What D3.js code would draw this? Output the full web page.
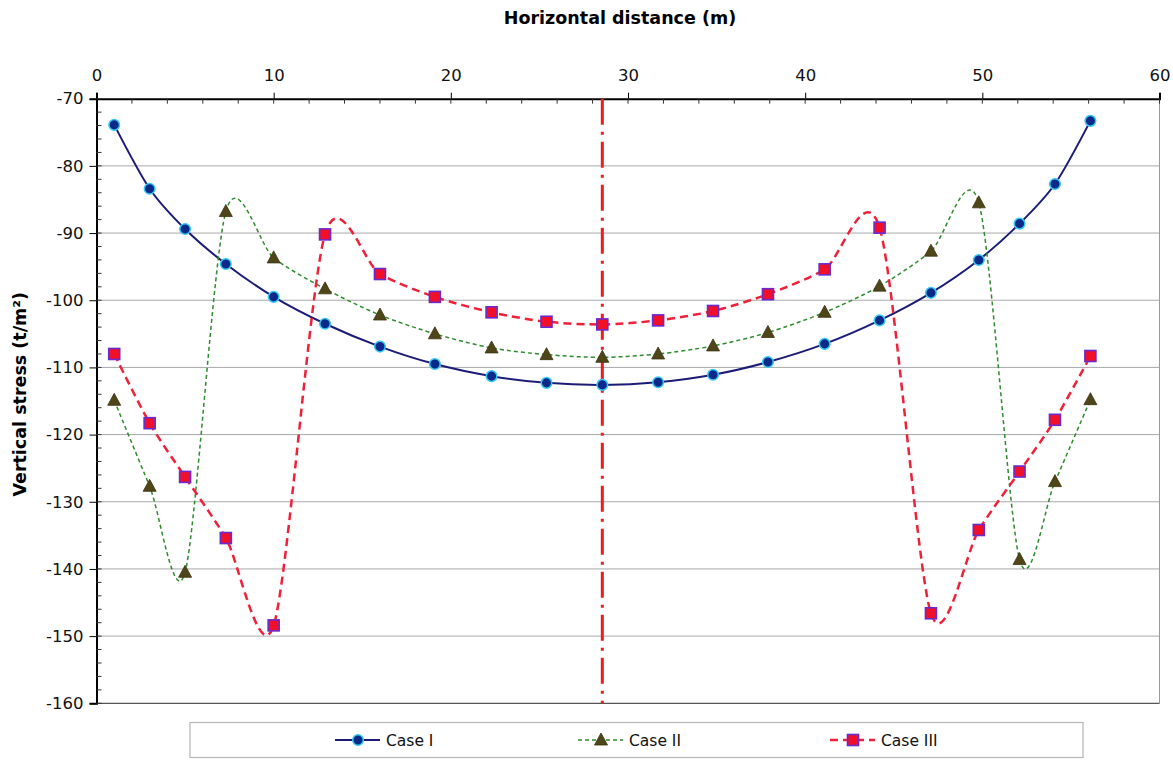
<!DOCTYPE html>
<html>
<head>
<meta charset="utf-8">
<script src="https://cdn.jsdelivr.net/npm/d3@7"></script>
<style>
  body { margin: 0; background: #fff; }
  text { font-family: "DejaVu Sans", sans-serif; }
</style>
</head>
<body>
<div id="chart"></div>
<script>
// horizontal distance of each station (m)
var distance = [1.0, 3.0, 5.0, 7.3, 10.0, 12.9, 16.0, 19.1, 22.3, 25.4, 28.55,
                31.7, 34.8, 37.9, 41.1, 44.2, 47.1, 49.8, 52.1, 54.1, 56.1];
// vertical stress (t/m2)
var caseI = [-73.9, -83.4, -89.4, -94.6, -99.5, -103.5, -106.9, -109.5, -111.3, -112.3, -112.6,
             -112.2, -111.1, -109.2, -106.5, -103.0, -98.9, -94.0, -88.6, -82.7, -73.3];
var caseII = [-114.9, -127.7, -140.5, -86.8, -93.7, -98.3, -102.2, -105.0, -107.1, -108.1, -108.5,
              -108.0, -106.8, -104.8, -101.8, -97.9, -92.7, -85.5, -138.6, -127.0, -114.8];
var caseIII = [-108.0, -118.3, -126.3, -135.4, -148.4, -90.2, -96.1, -99.5, -101.8, -103.2, -103.6,
               -103.0, -101.6, -99.1, -95.4, -89.2, -146.6, -134.2, -125.5, -117.8, -108.3];
var seriesNames = ["Case I", "Case II", "Case III"];
var centreLine = 28.55;
var xTicks = [0, 10, 20, 30, 40, 50, 60];
var yTicks = [-70, -80, -90, -100, -110, -120, -130, -140, -150, -160];

var W = 1173, H = 773;
var margin = { top: 98.7, right: 13.5, bottom: 69.7, left: 96.5 },
    width = W - margin.left - margin.right,
    height = H - margin.top - margin.bottom;

var svg = d3.select("#chart").append("svg")
    .attr("width", W).attr("height", H);

var g = svg.append("g")
    .attr("transform", "translate(" + margin.left + "," + margin.top + ")");

var x = d3.scaleLinear().domain([0, 60]).range([0, width]);
var y = d3.scaleLinear().domain([-70, -160]).range([0, height]);

// gridlines
g.append("g").selectAll("line")
    .data(yTicks.slice(1, -1))
    .enter().append("line")
    .attr("x1", 0).attr("x2", width)
    .attr("y1", d => y(d)).attr("y2", d => y(d))
    .attr("stroke", "#a8a8a8").attr("stroke-width", 1);

// frame: right and bottom
g.append("line").attr("x1", width).attr("x2", width).attr("y1", 0).attr("y2", height)
    .attr("stroke", "#9a9a9a").attr("stroke-width", 1);
g.append("line").attr("x1", 0).attr("x2", width).attr("y1", height).attr("y2", height)
    .attr("stroke", "#555").attr("stroke-width", 1.2);

// top axis
var xAxis = g.append("g").call(d3.axisTop(x).tickValues(xTicks).tickSize(6).tickPadding(12)
    .tickFormat(d => String(d)));
xAxis.select(".domain").attr("stroke", "#000").attr("stroke-width", 2);
xAxis.selectAll("text").attr("font-size", 16.5).attr("fill", "#111")
    .attr("font-family", "DejaVu Sans, sans-serif");
g.append("g").selectAll("line")
    .data(d3.range(0, 61, 2))
    .enter().append("line")
    .attr("x1", d => x(d)).attr("x2", d => x(d))
    .attr("y1", 0).attr("y2", 5)
    .attr("stroke", "#333").attr("stroke-width", 1);

// left axis
var yAxis = g.append("g").call(d3.axisLeft(y).tickValues(yTicks).tickSize(7).tickPadding(6)
    .tickFormat(d => String(d)));
yAxis.select(".domain").attr("stroke", "#000").attr("stroke-width", 2);
yAxis.selectAll("text").attr("font-size", 16.5).attr("fill", "#111")
    .attr("font-family", "DejaVu Sans, sans-serif");
g.append("g").selectAll("line")
    .data(d3.range(-70, -161, -2))
    .enter().append("line")
    .attr("x1", 0).attr("x2", 5)
    .attr("y1", d => y(d)).attr("y2", d => y(d))
    .attr("stroke", "#333").attr("stroke-width", 1);

// axis titles
svg.append("text")
    .attr("x", 620).attr("y", 24)
    .attr("text-anchor", "middle")
    .attr("font-size", 17.5).attr("font-weight", "bold")
    .text("Horizontal distance (m)");
svg.append("text")
    .attr("transform", "translate(26," + (margin.top + y(-114)) + ") rotate(-90)")
    .attr("text-anchor", "middle")
    .attr("font-size", 17.5).attr("font-weight", "bold")
    .text("Vertical stress (t/m²)");

// centre line
g.append("line")
    .attr("x1", x(centreLine)).attr("x2", x(centreLine))
    .attr("y1", 0).attr("y2", height)
    .attr("stroke", "#ee1c1c").attr("stroke-width", 3)
    .attr("stroke-dasharray", "26,7,3,7");

var styles = [
    { values: caseI, line: "#1c1c78", width: 2, dash: null, marker: "circle" },
    { values: caseII, line: "#2e8b2e", width: 1.5, dash: "4,3", marker: "triangle" },
    { values: caseIII, line: "#f0203a", width: 2.5, dash: "8,5", marker: "square" }
];

var line = d3.line()
    .x(d => x(d[0])).y(d => y(d[1]))
    .curve(d3.curveCardinal.tension(0.15));

function drawMarker(sel, type) {
    if (type === "circle") {
        sel.append("circle").attr("r", 5.3)
            .attr("fill", "#0a2a8a").attr("stroke", "#38c8f5").attr("stroke-width", 1.5);
    } else if (type === "triangle") {
        sel.append("path").attr("d", "M0,-7L6.5,5L-6.5,5Z")
            .attr("fill", "#4e4519").attr("stroke", "#3a3410").attr("stroke-width", 0.8);
    } else {
        sel.append("rect").attr("x", -5.5).attr("y", -5.5).attr("width", 11).attr("height", 11)
            .attr("fill", "#f0102a").attr("stroke", "#6a2ad0").attr("stroke-width", 1.6);
    }
}

styles.forEach(function (s) {
    var pts = distance.map((d, i) => [d, s.values[i]]);
    g.append("path")
        .attr("d", line(pts))
        .attr("fill", "none")
        .attr("stroke", s.line)
        .attr("stroke-width", s.width)
        .attr("stroke-dasharray", s.dash);
    g.append("g").selectAll("g")
        .data(pts)
        .enter().append("g")
        .attr("transform", d => "translate(" + x(d[0]) + "," + y(d[1]) + ")")
        .each(function () { drawMarker(d3.select(this), s.marker); });
});

// legend
var legend = svg.append("g");
legend.append("rect")
    .attr("x", 190).attr("y", 722.5).attr("width", 893).attr("height", 35)
    .attr("fill", "#fff").attr("stroke", "#b5b5b5").attr("stroke-width", 1.2);
var legendX = [335, 578, 830];
styles.forEach(function (s, i) {
    var lg = legend.append("g").attr("transform", "translate(" + legendX[i] + ",740)");
    lg.append("line").attr("x1", 0).attr("x2", 45).attr("y1", 0).attr("y2", 0)
        .attr("stroke", s.line).attr("stroke-width", s.width)
        .attr("stroke-dasharray", s.dash);
    drawMarker(lg.append("g").attr("transform", "translate(23,0)"), s.marker);
    lg.append("text").attr("x", 51).attr("y", 6)
        .attr("font-size", 15.5).attr("fill", "#111")
        .text(seriesNames[i]);
});
</script>
</body>
</html>
